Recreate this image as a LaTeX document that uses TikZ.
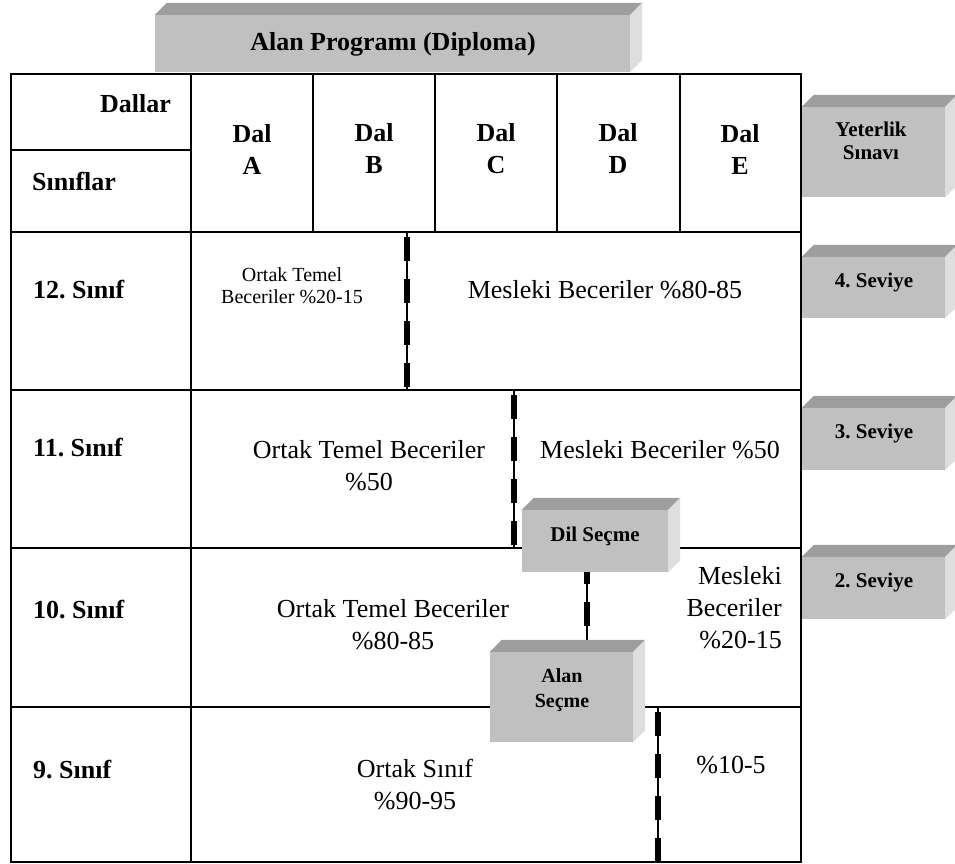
\documentclass[tikz,border=0pt]{standalone}
\usepackage{fontspec}
\setmainfont{Liberation Serif}
\usetikzlibrary{calc}
\frenchspacing
\definecolor{frontgray}{HTML}{C0C0C0}
\definecolor{topgray}{HTML}{9E9E9E}
\definecolor{sidegray}{HTML}{DEDEDE}
\tikzset{
  gridline/.style={line width=2pt, line cap=rect},
  divider/.style={line width=1.5pt, postaction={draw, line width=5.5pt, dash pattern=on 24pt off 18pt, dash phase=37pt}},
  frontface/.style={fill=frontgray, draw=none, inner sep=0pt},
  hdr/.style={font=\bfseries\fontsize{26}{32}\selectfont, align=center, inner sep=0pt},
  boxlbl/.style={font=\bfseries\fontsize{21}{23}\selectfont, align=center, inner sep=0pt},
  txt/.style={font=\fontsize{26}{32}\selectfont, align=center, inner sep=0pt},
  smalltxt/.style={font=\fontsize{20}{22}\selectfont, align=center, inner sep=0pt}
}
\newcommand\bevelfaces[1]{%
  \fill[topgray] (#1.north west) -- ++(12,-12) -- ([shift={(12,-12)}]#1.north east) -- (#1.north east) -- cycle;
  \fill[sidegray] (#1.north east) -- ++(12,-12) -- ([shift={(12,-12)}]#1.south east) -- (#1.south east) -- cycle;}
\begin{document}
\begin{tikzpicture}[x=1pt,y=-1pt]
\useasboundingbox (0,0) rectangle (955,864);
% table grid
\draw[gridline] (11,74) rectangle (801,862);
\draw[gridline] (191,74) -- (191,862);
\draw[gridline] (11,150) -- (191,150);
\draw[gridline] (11,232) -- (801,232);
\draw[gridline] (11,390) -- (801,390);
\draw[gridline] (11,548) -- (801,548);
\draw[gridline] (11,707) -- (801,707);
\foreach \x in {313,435,557,680} \draw[gridline] (\x,74) -- (\x,232);
% dividers
\coordinate (d12a) at (407,232); \coordinate (d12b) at (407,390);
\coordinate (d11a) at (514,390); \coordinate (d11b) at (514,548);
\coordinate (d9a) at (658,707); \coordinate (d9b) at (658,862);
\draw[divider] (d12a) -- (d12b);
\draw[divider] (d11a) -- (d11b);
\draw[divider] (d9a) -- (d9b);
% header texts
\node[hdr, anchor=east] (dallar) at (171,104) {Dallar};
\node[hdr, anchor=west] (siniflar) at (32,181) {Sınıflar};
\node[hdr] (dalA) at (252,149) {Dal\\A};
\node[hdr] (dalB) at (374,149) {Dal\\B};
\node[hdr] (dalC) at (496,149) {Dal\\C};
\node[hdr] (dalD) at (618,149) {Dal\\D};
\node[hdr] (dalE) at (740,149) {Dal\\E};
% row labels
\node[hdr, anchor=west] (r12) at (33,290) {12. Sınıf};
\node[hdr, anchor=west] (r11) at (33,448) {11. Sınıf};
\node[hdr, anchor=west] (r10) at (33,610) {10. Sınıf};
\node[hdr, anchor=west] (r9) at (33,770) {9. Sınıf};
% row contents
\node[smalltxt] (otb12) at (292,286) {Ortak Temel\\Beceriler \%20-15};
\node[txt] (mb12) at (605,290) {Mesleki Beceriler \%80-85};
\node[txt] (otb11) at (369,466) {Ortak Temel Beceriler\\\%50};
\node[txt] (mb11) at (660,450) {Mesleki Beceriler \%50};
\node[txt] (otb10) at (393,625) {Ortak Temel Beceriler\\\%80-85};
\node[txt, align=right, anchor=east] (mb10) at (782,608) {Mesleki\\Beceriler\\\%20-15};
\node[txt] (os9) at (415,785) {Ortak Sınıf\\\%90-95};
\node[txt] (p9) at (731,765) {\%10-5};
% connector between selection boxes
\coordinate (dilb) at (587,572); \coordinate (alant) at (587,640);
\draw[line width=1.5pt, postaction={draw, line width=5.5pt, dash pattern=on 24pt off 18pt, dash phase=12pt}] (dilb) -- (alant);
% 3D boxes
\node[frontface, minimum width=475pt, minimum height=57pt] (title) at (392.5,43.5) {};
\bevelfaces{title}
\node[hdr] (titletext) at (393,44) {Alan Programı (Diploma)};
\node[frontface, minimum width=143pt, minimum height=90pt] (yet) at (873.5,152) {};
\bevelfaces{yet}
\node[boxlbl] (yettext) at (871,141) {Yeterlik\\Sınavı};
\node[frontface, minimum width=143pt, minimum height=61pt] (s4) at (873.5,287.5) {};
\bevelfaces{s4}
\node[boxlbl] (s4text) at (874,282) {4. Seviye};
\node[frontface, minimum width=143pt, minimum height=62pt] (s3) at (873.5,439) {};
\bevelfaces{s3}
\node[boxlbl] (s3text) at (874,433) {3. Seviye};
\node[frontface, minimum width=143pt, minimum height=62pt] (s2) at (873.5,588) {};
\bevelfaces{s2}
\node[boxlbl] (s2text) at (874,582) {2. Seviye};
\node[frontface, minimum width=146pt, minimum height=62pt] (dil) at (595,541) {};
\bevelfaces{dil}
\node[boxlbl] (diltext) at (595,536) {Dil Seçme};
\node[frontface, minimum width=143pt, minimum height=90pt] (alan) at (561.5,697) {};
\bevelfaces{alan}
\node[boxlbl, font=\bfseries\fontsize{20}{25}\selectfont] (alantext) at (562,690) {Alan\\Seçme};
\end{tikzpicture}
\end{document}
